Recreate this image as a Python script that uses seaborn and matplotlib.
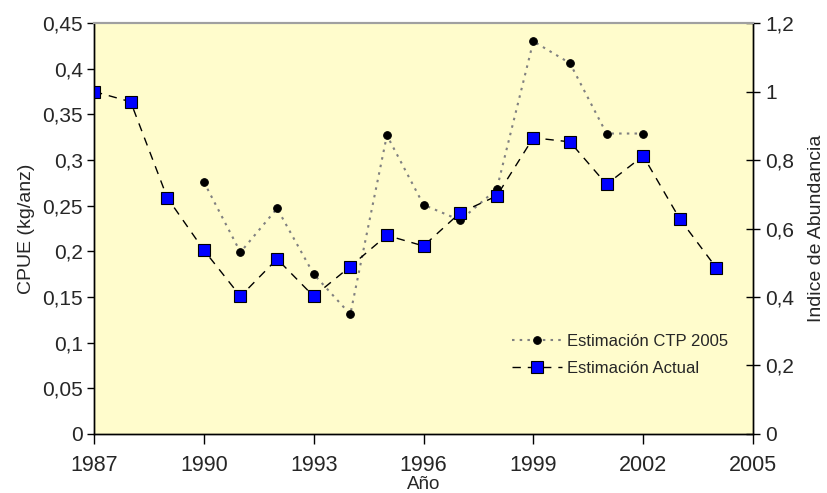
import numpy as np
import pandas as pd
import matplotlib
matplotlib.use("Agg")
import matplotlib.pyplot as plt
import seaborn as sns
from matplotlib.ticker import FuncFormatter, MultipleLocator

# datos
anios_ctp = [1990, 1991, 1992, 1993, 1994, 1995, 1996, 1997, 1998, 1999, 2000, 2001, 2002]
cpue_ctp = [0.276, 0.199, 0.247, 0.175, 0.131, 0.327, 0.251, 0.234, 0.268, 0.430, 0.406, 0.329, 0.329]

anios_actual = list(range(1987, 2005))
indice_actual = [1.00, 0.97, 0.69, 0.537, 0.402, 0.511, 0.402, 0.489, 0.580, 0.549,
                 0.646, 0.695, 0.865, 0.853, 0.729, 0.812, 0.628, 0.485]

anios_ticks = [1987, 1990, 1993, 1996, 1999, 2002, 2005]

ctp = pd.DataFrame({"Año": anios_ctp, "CPUE": cpue_ctp})
actual = pd.DataFrame({"Año": anios_actual, "Indice": indice_actual})

sns.set_style("white")
plt.rcParams['font.family'] = ['Liberation Sans', 'DejaVu Sans']

fig = plt.figure(figsize=(8.27, 4.93), dpi=100)
ax = fig.add_axes([0.1137, 0.1197, 0.7968, 0.8336])
ax.set_facecolor("#FFFCCC")
ax2 = ax.twinx()

sns.lineplot(data=ctp, x="Año", y="CPUE", ax=ax, color="#808080", linestyle=(0, (1.2, 2.5)),
             linewidth=1.5, marker="o", markersize=5.5, markerfacecolor="black",
             markeredgecolor="black", label="Estimación CTP 2005", legend=False)
sns.lineplot(data=actual, x="Año", y="Indice", ax=ax2, color="black", linestyle=(0, (6, 5)),
             linewidth=1, marker="s", markersize=8, markerfacecolor="#0000FF",
             markeredgecolor="black", markeredgewidth=0.8, label="Estimación Actual", legend=False)

ax.set_xlim(1987, 2005)
ax.set_ylim(0, 0.45)
ax2.set_ylim(0, 1.2)
ax.set_xticks(anios_ticks)
ax.yaxis.set_major_locator(MultipleLocator(0.05))
ax2.yaxis.set_major_locator(MultipleLocator(0.2))

coma = FuncFormatter(lambda v, p: f"{v:.10g}".replace(".", ","))
ax.yaxis.set_major_formatter(coma)
ax2.yaxis.set_major_formatter(coma)

ax.tick_params(axis="y", direction="out", length=5, width=1, color="black",
               labelsize=15, left=True, pad=3)
ax.tick_params(axis="x", direction="out", length=7, width=1, color="black",
               labelsize=15.5, bottom=True, pad=8)
ax2.tick_params(axis="y", direction="inout", length=10, width=1, color="black",
                labelsize=15, right=True, pad=4)

ax.set_xlabel("Año", fontsize=13.5, labelpad=0)
ax.set_ylabel("CPUE (kg/anz)", fontsize=14, labelpad=5)
ax2.set_ylabel("Indice de Abundancia", fontsize=14, labelpad=10)

for a in (ax, ax2):
    for s in a.spines.values():
        s.set_color("black")
        s.set_linewidth(1)
    a.spines["top"].set_color("#A0A0A0")
    a.spines["top"].set_linewidth(1.5)

h1, l1 = ax.get_legend_handles_labels()
h2, l2 = ax2.get_legend_handles_labels()
ax2.legend(h1 + h2, l1 + l2, loc="lower right", bbox_to_anchor=(0.985, 0.105), frameon=False,
           fontsize=12, handlelength=3.0, handletextpad=0.3, labelspacing=0.7)

fig.savefig("out.png", dpi=100)
